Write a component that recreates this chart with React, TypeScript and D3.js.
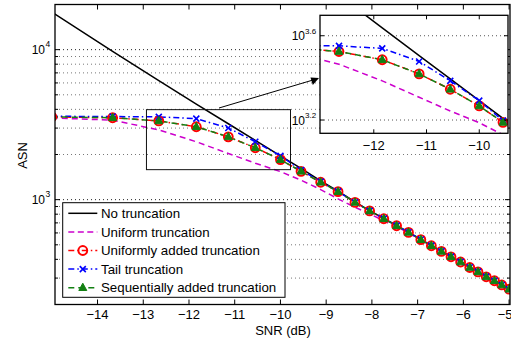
import * as d3 from 'd3';

// SNR points (dB) shared by every curve
const snr = [-15.0, -13.67, -12.66, -11.84, -11.14, -10.55, -10.0, -9.55, -9.12, -8.74, -8.37, -8.05, -7.74,
  -7.46, -7.2, -6.93, -6.7, -6.48, -6.27, -6.06, -5.86, -5.68, -5.5, -5.32, -5.16, -5.0];

const noTruncation = [17783, 9750, 6209, 4335, 3206, 2483, 1959, 1614, 1334, 1140, 966, 845, 750,
  673, 607, 543, 494, 453, 417, 385, 354, 331, 307, 288, 270, 253];
const uniformTruncation = [3508, 3388, 2917, 2432, 2032, 1750, 1538, 1349, 1167, 1012, 891, 804, 724,
  661, 601, 538, 491, 450, 414, 382, 352, 329, 305, 286, 269, 252];
const uniformlyAdded = [3565, 3516, 3350, 3062, 2624, 2218, 1849, 1545, 1306, 1130, 959, 841, 746,
  670, 605, 541, 493, 452, 416, 384, 353, 330, 306, 288, 270, 253];
const tailTruncation = [3597, 3581, 3565, 3467, 3006, 2432, 1959, 1574, 1318, 1135, 960, 842, 747,
  671, 606, 542, 494, 453, 417, 385, 354, 331, 307, 288, 270, 253];
const sequentiallyAdded = [3565, 3516, 3350, 3062, 2624, 2218, 1849, 1545, 1306, 1130, 959, 841, 746,
  670, 605, 541, 493, 452, 416, 384, 353, 330, 306, 288, 270, 253];

const mainXTicks = [-14, -13, -12, -11, -10, -9, -8, -7, -6, -5];
const mainYMajor = [1000, 10000];
const insetXTicks = [-12, -11, -10];
const insetYTicks = [3.2, 3.6];

const FONT = 'Liberation Sans, Arial, Helvetica, sans-serif';

type MarkerKind = 'none' | 'circle' | 'x' | 'tri';

const series: { name: string; values: number[]; color: string; dash: string; marker: MarkerKind }[] = [
  { name: 'No truncation', values: noTruncation, color: '#000000', dash: '', marker: 'none' },
  { name: 'Uniform truncation', values: uniformTruncation, color: '#cc00cc', dash: '6,4', marker: 'none' },
  { name: 'Uniformly added truncation', values: uniformlyAdded, color: '#ff0000', dash: '6,3,1.5,3', marker: 'circle' },
  { name: 'Tail truncation', values: tailTruncation, color: '#0000ff', dash: '6,3,1.5,3', marker: 'x' },
  { name: 'Sequentially added truncation', values: sequentiallyAdded, color: '#138013', dash: '6,4', marker: 'tri' },
];

function Marker({ kind, x, y, color }: { kind: MarkerKind; x: number; y: number; color: string }) {
  if (kind === 'circle') {
    return <circle cx={x} cy={y} r={4.4} fill="none" stroke={color} strokeWidth={2} />;
  }
  if (kind === 'x') {
    return (
      <path d={`M${x - 3},${y - 3}L${x + 3},${y + 3}M${x - 3},${y + 3}L${x + 3},${y - 3}`}
        stroke={color} strokeWidth={1.6} fill="none" />
    );
  }
  if (kind === 'tri') {
    return <path d={`M${x},${y - 4.5}L${x + 4},${y + 2.8}L${x - 4},${y + 2.8}Z`} fill={color} stroke={color} strokeWidth={1} />;
  }
  return null;
}

function Curves({ x, y, clipId }: { x: d3.ScaleLinear<number, number>; y: d3.ScaleLogarithmic<number, number>; clipId: string }) {
  return (
    <g clipPath={`url(#${clipId})`}>
      {series.map((s) => {
        const line = d3.line<number>().x((_, i) => x(snr[i])).y((v) => y(v));
        return (
          <path key={s.name} d={line(s.values) ?? ''} fill="none" stroke={s.color} strokeWidth={1.5}
            strokeDasharray={s.dash || undefined} />
        );
      })}
      {series.map((s) =>
        s.values.map((v, i) => (
          <Marker key={`${s.name}-${i}`} kind={s.marker} x={x(snr[i])} y={y(v)} color={s.color} />
        ))
      )}
    </g>
  );
}

export default function App() {
  const width = 511;
  const height = 341;

  const x = d3.scaleLinear().domain([-14.93, -4.98]).range([55, 510]);
  const y = d3.scaleLog().domain([200, 20000]).range([304.5, 4.5]);
  const yAll = y.ticks();

  const ix = d3.scaleLinear().domain([-13.02, -9.455]).range([320, 508]);
  const iy = d3.scaleLog().domain([Math.pow(10, 3.137), Math.pow(10, 3.697)]).range([133.3, 15.3]);

  const [x0, x1] = x.range();
  const [yb, yt] = y.range();
  const [ix0, ix1] = ix.range();
  const [iyb, iyt] = iy.range();

  // zoom rectangle in main axes
  const rx0 = x(-12.93);
  const rx1 = x(-9.78);
  const ry0 = y(Math.pow(10, 3.6));
  const ry1 = y(Math.pow(10, 3.2));

  const legendX = 62.7;
  const legendY = 202.7;
  const rowH = 18.6;

  return (
    <svg width={width} height={height} viewBox={`0 0 ${width} ${height}`}
      style={{ position: 'absolute', left: 0, top: 0, background: '#fff' }} fontFamily={FONT}>
      <defs>
        <clipPath id="main-clip"><rect x={x0} y={yt} width={x1 - x0} height={yb - yt} /></clipPath>
        <clipPath id="inset-clip"><rect x={ix0} y={iyt} width={ix1 - ix0} height={iyb - iyt} /></clipPath>
      </defs>

      {/* main grid */}
      {yAll.map((t) => (
        <line key={`g${t}`} x1={x0} x2={x1} y1={y(t)} y2={y(t)}
          stroke={mainYMajor.includes(t) ? '#222' : '#777'} strokeWidth={1} strokeDasharray="1,3" />
      ))}

      <Curves x={x} y={y} clipId="main-clip" />

      {/* zoom rectangle and arrow */}
      <rect x={rx0} y={ry0} width={rx1 - rx0} height={ry1 - ry0} fill="none" stroke="#111" strokeWidth={1} />
      <line x1={219} y1={108} x2={313} y2={80} stroke="#000" strokeWidth={1} />
      <path d="M319,78 L310.5,77.6 L312.8,84.9 Z" fill="#000" />

      {/* main frame and ticks */}
      <rect x={x0} y={yt} width={x1 - x0} height={yb - yt} fill="none" stroke="#000" strokeWidth={1.3} />
      {mainXTicks.map((t) => (
        <g key={`xt${t}`}>
          <line x1={x(t)} x2={x(t)} y1={yb} y2={yb - 5} stroke="#000" />
          <line x1={x(t)} x2={x(t)} y1={yt} y2={yt + 5} stroke="#000" />
          <text x={t === -5 ? x(t) - 4 : x(t)} y={319} textAnchor="middle" fontSize={13}>{t < 0 ? `\u2212${-t}` : t}</text>
        </g>
      ))}
      {yAll.map((t) => {
        const len = mainYMajor.includes(t) ? 5 : 3;
        return (
          <g key={`yt${t}`}>
            <line x1={x0} x2={x0 + len} y1={y(t)} y2={y(t)} stroke="#000" />
            <line x1={x1} x2={x1 - len} y1={y(t)} y2={y(t)} stroke="#000" />
          </g>
        );
      })}
      {mainYMajor.map((t) => (
        <text key={`yl${t}`} x={45} y={y(t) + 4.5} textAnchor="end" fontSize={12}>
          10
          <tspan x={45.5} dy={-7} textAnchor="start" fontSize={8.5}>{Math.round(Math.log10(t))}</tspan>
        </text>
      ))}

      {/* axis titles */}
      <text x={283} y={335} textAnchor="middle" fontSize={13}>SNR (dB)</text>
      <text transform={`translate(26.5,155.5) rotate(-90)`} textAnchor="middle" fontSize={13}>ASN</text>

      {/* inset */}
      <rect x={ix0} y={iyt} width={ix1 - ix0} height={iyb - iyt} fill="#fff" />
      {insetYTicks.map((t) => (
        <line key={`ig${t}`} x1={ix0} x2={ix1} y1={iy(Math.pow(10, t))} y2={iy(Math.pow(10, t))}
          stroke="#555" strokeWidth={1} strokeDasharray="1,3" />
      ))}
      <Curves x={ix} y={iy} clipId="inset-clip" />
      <rect x={ix0} y={iyt} width={ix1 - ix0} height={iyb - iyt} fill="none" stroke="#000" strokeWidth={1.3} />
      {insetXTicks.map((t) => (
        <g key={`ixt${t}`}>
          <line x1={ix(t)} x2={ix(t)} y1={iyb} y2={iyb - 4} stroke="#000" />
          <line x1={ix(t)} x2={ix(t)} y1={iyt} y2={iyt + 4} stroke="#000" />
          <text x={ix(t)} y={150} textAnchor="middle" fontSize={13}>{`\u2212${-t}`}</text>
        </g>
      ))}
      {insetYTicks.map((t) => {
        const py = iy(Math.pow(10, t));
        return (
          <g key={`iyt${t}`}>
            <line x1={ix0} x2={ix0 + 4} y1={py} y2={py} stroke="#000" />
            <line x1={ix1} x2={ix1 - 4} y1={py} y2={py} stroke="#000" />
            <text x={305} y={py + 4.6} textAnchor="end" fontSize={12}>
              10
              <tspan x={305} dy={-6.5} textAnchor="start" fontSize={8}>{t.toFixed(1)}</tspan>
            </text>
          </g>
        );
      })}

      {/* legend */}
      <rect x={legendX} y={legendY} width={285 - legendX} height={297.3 - legendY} fill="#fff" stroke="#000" strokeWidth={1} />
      {series.map((s, i) => {
        const cy = 213.3 + i * rowH;
        return (
          <g key={`lg${s.name}`}>
            <line x1={68.3} x2={97.3} y1={cy} y2={cy} stroke={s.color} strokeWidth={1.5}
              strokeDasharray={s.dash ? (s.marker === 'none' ? '6,3.5' : s.dash) : undefined} />
            <Marker kind={s.marker} x={82.8} y={cy} color={s.color} />
            <text x={101} y={cy + 4.7} fontSize={13.3}>{s.name}</text>
          </g>
        );
      })}
    </svg>
  );
}
